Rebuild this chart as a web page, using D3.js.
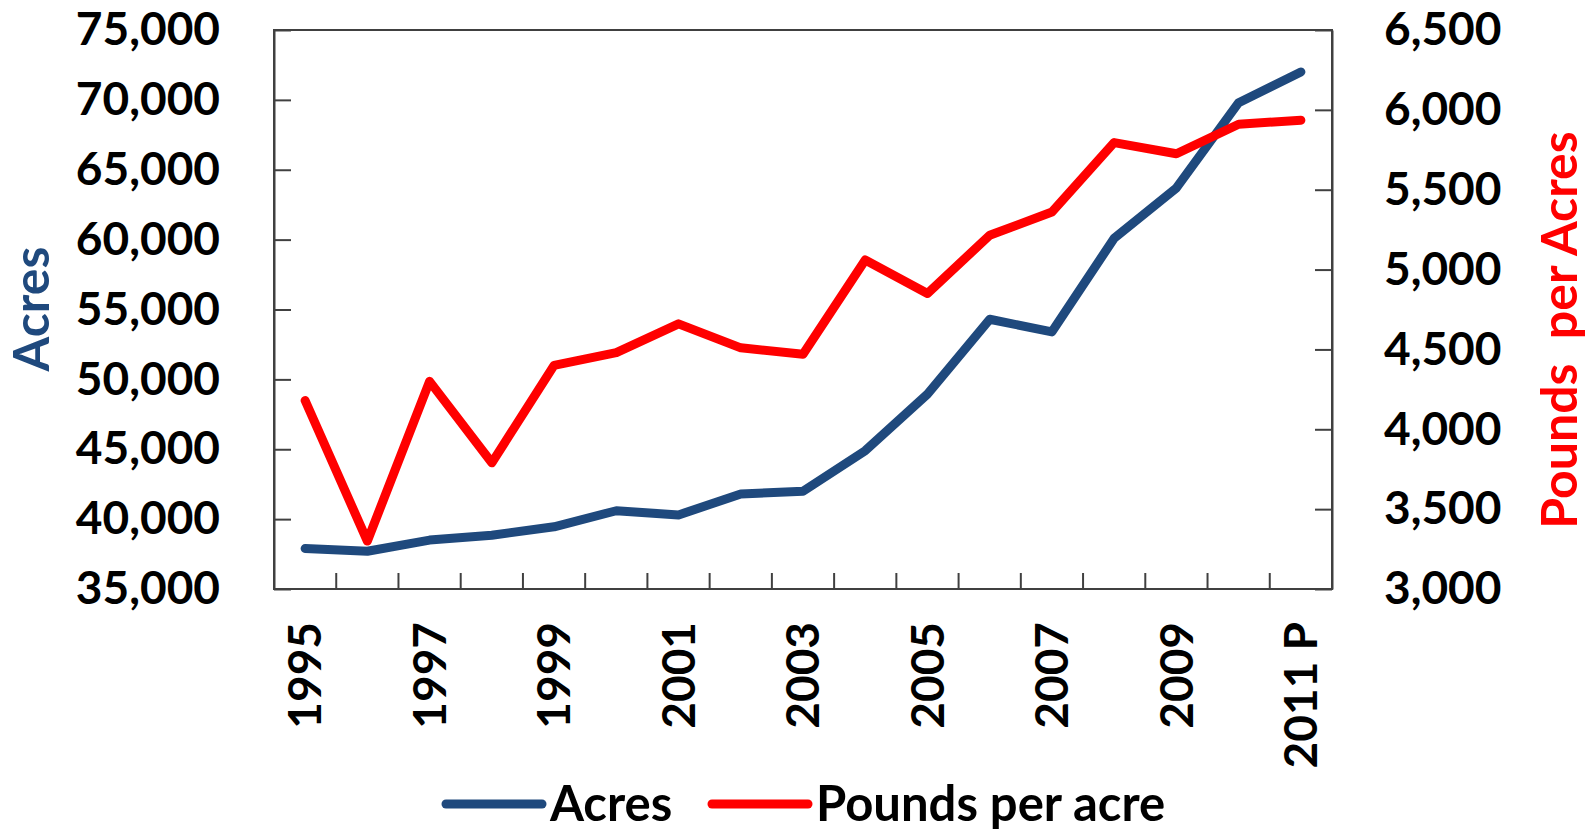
<!DOCTYPE html>
<html>
<head>
<meta charset="utf-8">
<script src="https://cdn.jsdelivr.net/npm/d3@7"></script>
<style>
  body { margin: 0; background: #fff; }
  svg text { font-family: Lato, "Open Sans", sans-serif; font-weight: bold; }
</style>
</head>
<body>
<div id="chart"></div>
<script>
// values
const years = ['1995', '1996', '1997', '1998', '1999', '2000', '2001', '2002', '2003',
  '2004', '2005', '2006', '2007', '2008', '2009', '2010', '2011 P'];
const acres = [37900, 37700, 38500, 38850, 39450, 40600, 40300, 41800, 42000,
  44900, 48950, 54300, 53400, 60100, 63700, 69800, 72000];
const poundsPerAcre = [4180, 3300, 4300, 3790, 4400, 4480, 4660, 4510, 4470,
  5060, 4850, 5215, 5360, 5795, 5725, 5910, 5935];
const leftTicks = [35000, 40000, 45000, 50000, 55000, 60000, 65000, 70000, 75000];
const rightTicks = [3000, 3500, 4000, 4500, 5000, 5500, 6000, 6500];
const labelYears = ['1995', '1997', '1999', '2001', '2003', '2005', '2007', '2009', '2011 P'];

const blue = '#1F497D';
const red = '#FF0000';
const axisColor = '#404040';

const svg = d3.select('#chart').append('svg')
  .attr('width', 1590)
  .attr('height', 832);

const plotLeft = 274, plotRight = 1332, plotTop = 30, plotBottom = 589;

const x = d3.scaleBand().domain(years).range([plotLeft, plotRight]).padding(0);
const yL = d3.scaleLinear().domain([35000, 75000]).range([plotBottom, plotTop]);
const yR = d3.scaleLinear().domain([3000, 6500]).range([plotBottom, plotTop]);
const cx = d => x(d) + x.bandwidth() / 2;

// plot frame
svg.append('rect')
  .attr('x', plotLeft).attr('y', plotTop)
  .attr('width', plotRight - plotLeft).attr('height', plotBottom - plotTop)
  .attr('fill', 'none')
  .attr('stroke', axisColor)
  .attr('stroke-width', 2);

// left axis
const gL = svg.append('g')
  .attr('transform', `translate(${plotLeft},0)`)
  .call(d3.axisLeft(yL).tickValues(leftTicks).tickFormat(d3.format(','))
    .tickSizeInner(-17).tickSizeOuter(0).tickPadding(54));
gL.selectAll('text').attr('font-size', 46).attr('fill', '#000');

// right axis
const gR = svg.append('g')
  .attr('transform', `translate(${plotRight},0)`)
  .call(d3.axisRight(yR).tickValues(rightTicks).tickFormat(d3.format(','))
    .tickSizeInner(-17).tickSizeOuter(0).tickPadding(52));
gR.selectAll('text').attr('font-size', 46).attr('fill', '#000');

// bottom axis, labels only on odd years
const gB = svg.append('g')
  .attr('transform', `translate(0,${plotBottom})`)
  .call(d3.axisBottom(x).tickValues(labelYears).tickSize(0).tickPadding(0));
gB.select('.domain').remove();
gB.selectAll('text')
  .attr('font-size', 46)
  .attr('fill', '#000')
  .attr('text-anchor', 'end')
  .attr('transform', 'rotate(-90)')
  .attr('x', -33)
  .attr('y', 0)
  .attr('dy', '0.35em');

// category boundary ticks
svg.append('g').selectAll('line')
  .data(years.slice(1))
  .enter().append('line')
  .attr('x1', d => x(d)).attr('x2', d => x(d))
  .attr('y1', plotBottom).attr('y2', plotBottom - 16)
  .attr('stroke', axisColor)
  .attr('stroke-width', 2);

svg.selectAll('.tick line').attr('stroke', axisColor).attr('stroke-width', 2);
svg.selectAll('.domain').attr('stroke', axisColor).attr('stroke-width', 2);

// lines
const lineL = d3.line().x((d, i) => cx(years[i])).y(d => yL(d));
const lineR = d3.line().x((d, i) => cx(years[i])).y(d => yR(d));

svg.append('path')
  .datum(acres)
  .attr('d', lineL)
  .attr('fill', 'none')
  .attr('stroke', blue)
  .attr('stroke-width', 9)
  .attr('stroke-linejoin', 'round')
  .attr('stroke-linecap', 'round');

svg.append('path')
  .datum(poundsPerAcre)
  .attr('d', lineR)
  .attr('fill', 'none')
  .attr('stroke', red)
  .attr('stroke-width', 9)
  .attr('stroke-linejoin', 'round')
  .attr('stroke-linecap', 'round');

// axis titles
svg.append('text')
  .attr('transform', 'translate(49,309) rotate(-90)')
  .attr('text-anchor', 'middle')
  .attr('font-size', 50)
  .attr('fill', blue)
  .text('Acres');

svg.append('text')
  .attr('transform', 'translate(1577,330) rotate(-90)')
  .attr('text-anchor', 'middle')
  .attr('font-size', 50)
  .attr('fill', red)
  .style('white-space', 'pre')
  .text('Pounds  per Acres');

// legend
const legend = [
  { name: 'Acres', color: blue, x: 446 },
  { name: 'Pounds per acre', color: red, x: 712 }
];
const lg = svg.append('g').selectAll('g')
  .data(legend)
  .enter().append('g')
  .attr('transform', d => `translate(${d.x},804)`);
lg.append('line')
  .attr('x1', 0).attr('x2', 96)
  .attr('stroke', d => d.color)
  .attr('stroke-width', 9)
  .attr('stroke-linecap', 'round');
lg.append('text')
  .attr('x', 104)
  .attr('dy', '0.35em')
  .attr('font-size', 49)
  .attr('fill', '#000')
  .text(d => d.name);
</script>
</body>
</html>
